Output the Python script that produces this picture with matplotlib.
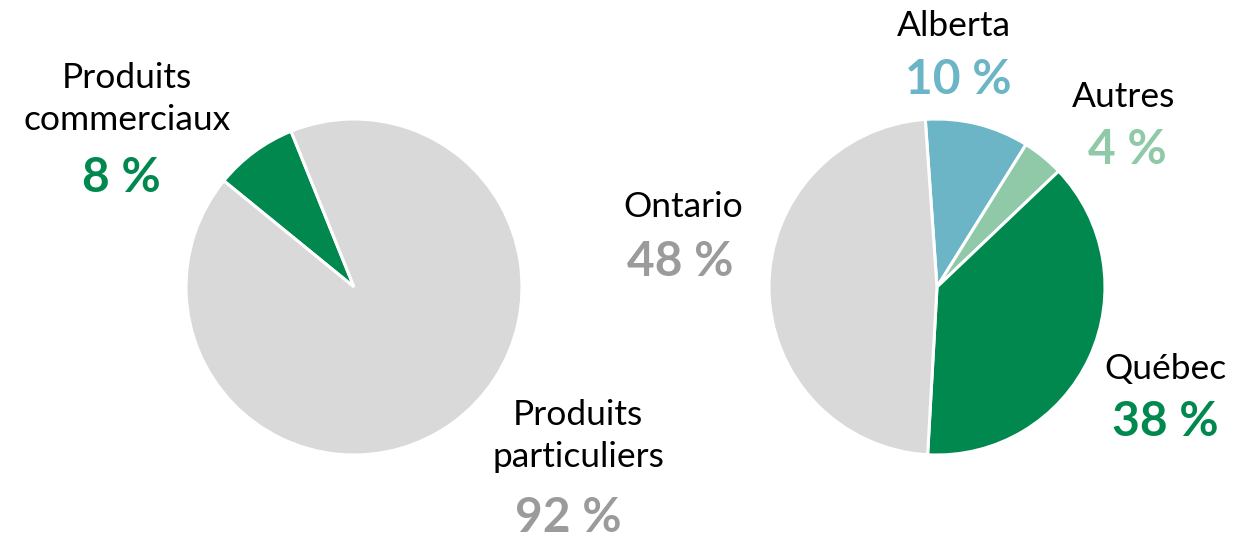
import matplotlib
matplotlib.use("Agg")
import matplotlib.pyplot as plt

# left pie: product type
type_labels = ["Produits\ncommerciaux", "Produits\nparticuliers"]
type_values = [8, 92]
type_colors = ["#00884E", "#D9D9D9"]
type_pct_colors = ["#00884E", "#9B9B9B"]

# right pie: province
prov_labels = ["Alberta", "Autres", "Québec", "Ontario"]
prov_values = [10, 4, 38, 48]
prov_colors = ["#6BB5C7", "#90C9A7", "#00884E", "#D9D9D9"]
prov_pct_colors = ["#6BB5C7", "#90C9A7", "#00884E", "#9B9B9B"]

plt.rcParams["font.family"] = ["Lato", "DejaVu Sans"]

W, H = 1254, 539
fig = plt.figure(figsize=(W / 100, H / 100), dpi=100)
ax = fig.add_axes([0, 0, 1, 1])

wedge = dict(edgecolor="white", linewidth=2.2)
ax.pie(type_values, colors=type_colors, startangle=112, counterclock=True,
       center=(354, H - 287), radius=168, wedgeprops=wedge)
ax.pie(prov_values, colors=prov_colors, startangle=94, counterclock=False,
       center=(937, H - 287), radius=168, wedgeprops=wedge)

ax.set_xlim(0, W)
ax.set_ylim(0, H)
ax.set_aspect("equal")
ax.axis("off")

# label positions in pixel coords (name centre, percent centre)
type_pos = [((127, 99), (121, 178)), ((578, 436), (568, 518))]
prov_pos = [((954, 26), (958, 80)), ((1124, 97), (1127, 150)),
            ((1165, 369), (1165, 422)), ((683, 207), (680, 262))]

def put(label, value, pos, color):
    (lx, ly), (px, py) = pos
    ax.text(lx, H - ly, label, ha="center", va="center", fontsize=25.5,
            color="black", linespacing=1.38)
    ax.text(px, H - py, f"{value} %", ha="center", va="center", fontsize=34.5,
            fontweight="bold", color=color)

for lab, val, pos, c in zip(type_labels, type_values, type_pos, type_pct_colors):
    put(lab, val, pos, c)
for lab, val, pos, c in zip(prov_labels, prov_values, prov_pos, prov_pct_colors):
    put(lab, val, pos, c)

fig.savefig("out.png", dpi=100)
